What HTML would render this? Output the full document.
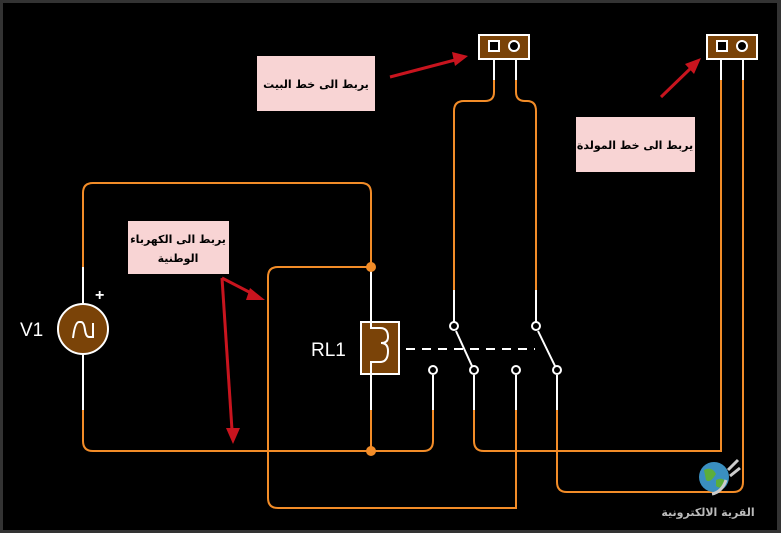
<!DOCTYPE html>
<html><head><meta charset="utf-8"><style>
html,body{margin:0;padding:0;background:#000}
svg{display:block}
</style></head><body>
<svg width="781" height="533" viewBox="0 0 781 533" xmlns="http://www.w3.org/2000/svg" font-family="Liberation Sans, DejaVu Sans, sans-serif">
<rect x="0" y="0" width="781" height="533" fill="#333"/>
<rect x="3" y="3" width="774" height="527" fill="#000"/>
<g fill="none" stroke="#f28c28" stroke-width="2">
<path d="M83 267 V193 Q83 183 93 183 H361 Q371 183 371 193 V267"/>
<path d="M83 410 V441 Q83 451 93 451 H423 Q433 451 433 441 V410"/>
<path d="M371 410 V451"/>
<path d="M371 267 H278 Q268 267 268 277 V498 Q268 508 278 508 H516 V410"/>
<path d="M494 80 V92 Q494 101 485 101 H464 Q454 101 454 111 V290"/>
<path d="M516 80 V92 Q516 101 525 101 H527 Q536 101 536 111 V290"/>
<path d="M474 410 V441 Q474 451 484 451 H721 V80"/>
<path d="M557 410 V482 Q557 492 567 492 H733 Q743 492 743 482 V80"/>
</g>
<g stroke="#fff" stroke-width="2" fill="none">
<path d="M83 267 V410"/>
<path d="M371 267 V410"/>
<path d="M433 375 V410 M474 375 V410 M516 375 V410 M557 375 V410"/>
<path d="M454 290 V322 M536 290 V322"/>
<path d="M494 59 V80 M516 59 V80 M721 59 V80 M743 59 V80"/>
<path d="M456 331 L472 366 M538 331 L555 366"/>
<path d="M406 349 H535" stroke-dasharray="9,7"/>
</g>
<g fill="#f28c28"><circle cx="371" cy="267" r="5"/><circle cx="371" cy="451" r="5"/></g>
<circle cx="83" cy="329" r="25" fill="#7a4308" stroke="#fff" stroke-width="2"/>
<path d="M73 338 Q75 322 79 322 H81 Q84 322 85 330 Q86 337 89 337 H93 L93 323" fill="none" stroke="#fff" stroke-width="2"/>
<text x="20" y="336" fill="#fff" font-size="19">V1</text>
<text x="95" y="300" fill="#fff" font-size="16" font-weight="bold">+</text>
<rect x="361" y="322" width="38" height="52" fill="#7a4308" stroke="#fff" stroke-width="2"/>
<path d="M371 322 V328 H380 Q388 328 388 337 Q388 343 381 343 Q388 343 388 351 Q388 362 380 362 H371 V374" fill="none" stroke="#fff" stroke-width="2"/>
<text x="311" y="356" fill="#fff" font-size="19">RL1</text>
<g fill="#000" stroke="#fff" stroke-width="2">
<circle cx="454" cy="326" r="4"/><circle cx="536" cy="326" r="4"/>
<circle cx="433" cy="370" r="4"/><circle cx="474" cy="370" r="4"/>
<circle cx="516" cy="370" r="4"/><circle cx="557" cy="370" r="4"/>
</g>
<g>
<rect x="479" y="35" width="50" height="24" fill="#7a4308" stroke="#fff" stroke-width="2"/>
<rect x="489" y="41" width="10" height="10" fill="#000" stroke="#fff" stroke-width="2"/>
<circle cx="514" cy="46" r="5" fill="#000" stroke="#fff" stroke-width="2"/>
<rect x="707" y="35" width="50" height="24" fill="#7a4308" stroke="#fff" stroke-width="2"/>
<rect x="717" y="41" width="10" height="10" fill="#000" stroke="#fff" stroke-width="2"/>
<circle cx="742" cy="46" r="5" fill="#000" stroke="#fff" stroke-width="2"/>
</g>
<g font-size="11" font-weight="bold" fill="#000" font-family="DejaVu Sans, sans-serif" text-anchor="middle">
<rect x="257" y="56" width="118" height="55" fill="#f8d4d4"/>
<text x="316" y="88" direction="rtl">يربط الى خط البيت</text>
<rect x="576" y="117" width="119" height="55" fill="#f8d4d4"/>
<text x="635" y="149" direction="rtl">يربط الى خط المولدة</text>
<rect x="128" y="221" width="101" height="53" fill="#f8d4d4"/>
<text x="178" y="243" direction="rtl">يربط الى الكهرباء</text>
<text x="178" y="262" direction="rtl">الوطنية</text>
</g>
<g stroke="#c8141e" stroke-width="3" fill="#c8141e">
<line x1="390" y1="77" x2="455" y2="60"/>
<polygon points="468,56 452,52 455,66" stroke="none"/>
<line x1="661" y1="97" x2="692" y2="67"/>
<polygon points="701,58 685,64 694,74" stroke="none"/>
<line x1="222" y1="278" x2="255" y2="295"/>
<polygon points="265,300 250,288 246,300" stroke="none"/>
<line x1="222" y1="278" x2="232" y2="430"/>
<polygon points="233,444 226,428 240,428" stroke="none"/>
</g>
<circle cx="714" cy="477" r="15" fill="#3a8fc0"/>
<path d="M704 470 Q712 466 716 474 Q710 484 706 480 Z M716 480 Q724 476 726 484 Q720 490 716 486 Z" fill="#5cae3a"/>
<path d="M728 470 L738 460 M730 476 L740 468 M726 480 Q722 492 712 494" stroke="#ccc" stroke-width="3" fill="none"/>
<text x="708" y="516" text-anchor="middle" font-size="11" font-weight="bold" fill="#bbb" font-family="DejaVu Sans, sans-serif" direction="rtl">القرية الالكترونية</text>
</svg>
</body></html>
